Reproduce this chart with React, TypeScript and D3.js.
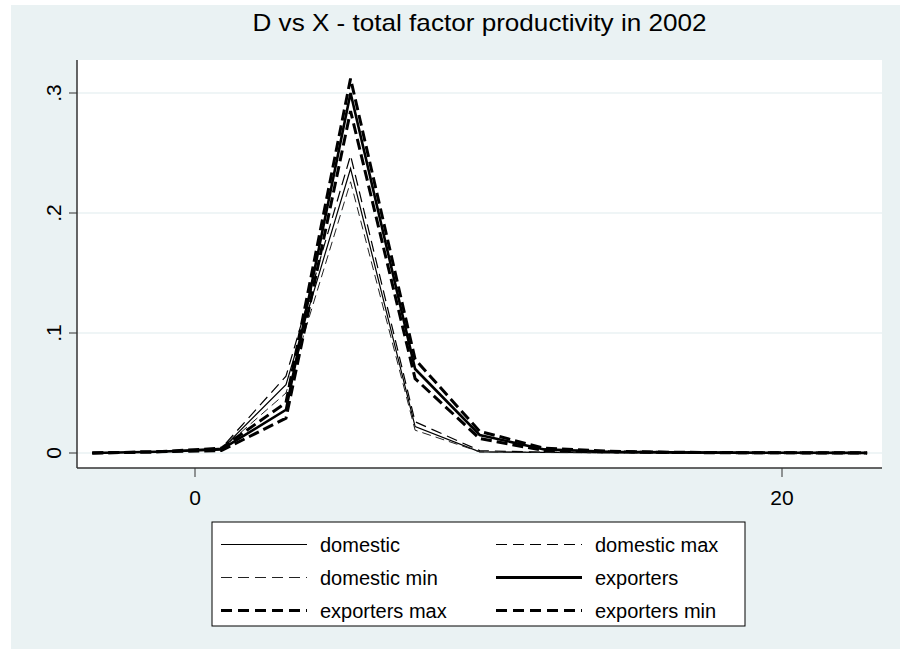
import * as d3 from "d3";

// grid points of the density estimates
const xs = [-3.5, -1.3, 0.9, 3.1, 5.3, 7.5, 9.7, 11.9, 14.1, 16.3, 18.5, 20.7, 22.9];

const domestic = [0, 0.001, 0.003, 0.057, 0.237, 0.022, 0.001, 0.0005, 0.0003, 0.0002, 0.0001, 0.0001, 0];
const domesticMax = [0, 0.001, 0.004, 0.064, 0.248, 0.026, 0.002, 0.0006, 0.0003, 0.0002, 0.0001, 0.0001, 0];
const domesticMin = [0, 0.001, 0.003, 0.05, 0.226, 0.019, 0.001, 0.0004, 0.0002, 0.0001, 0.0001, 0, 0];
const exporters = [0, 0.001, 0.003, 0.036, 0.3, 0.07, 0.015, 0.003, 0.001, 0.0005, 0.0003, 0.0002, 0.0001];
const exportersMax = [0, 0.001, 0.004, 0.042, 0.312, 0.078, 0.018, 0.004, 0.0015, 0.0006, 0.0003, 0.0002, 0.0001];
const exportersMin = [0, 0.001, 0.002, 0.029, 0.285, 0.062, 0.012, 0.002, 0.001, 0.0004, 0.0002, 0.0001, 0];

const yTicks = [0, 0.1, 0.2, 0.3];
const yTickLabels = ["0", ".1", ".2", ".3"];
const xTicks = [0, 20];

const title = "D vs X - total factor productivity in 2002";

const series = [
  { name: "domestic", values: domestic, width: 1.2, dash: "none", color: "#000" },
  { name: "domestic max", values: domesticMax, width: 1.2, dash: "11,6", color: "#000" },
  { name: "domestic min", values: domesticMin, width: 1, dash: "9,5", color: "#222" },
  { name: "exporters", values: exporters, width: 2.6, dash: "none", color: "#000" },
  { name: "exporters max", values: exportersMax, width: 3, dash: "11,5", color: "#000" },
  { name: "exporters min", values: exportersMin, width: 3, dash: "11,5", color: "#000" },
];

const W = 900;
const H = 649;
const plot = { left: 77, right: 882, top: 60, bottom: 468 };
const font = "'Liberation Sans', Arial, sans-serif";

export default function App() {
  const x = d3.scaleLinear().domain([0, 20]).range([195, 782]);
  const y = d3.scaleLinear().domain([0, 0.3]).range([453, 93]);

  const line = d3
    .line<number>()
    .x((_, i) => x(xs[i]))
    .y((v) => y(v));

  // legend layout
  const lg = { left: 212, top: 522, width: 533, height: 104 };

  return (
    <svg
      width={W}
      height={H}
      style={{ position: "absolute", left: 0, top: 0, fontFamily: font }}
    >
      <rect x={0} y={0} width={W} height={H} fill="#fff" />
      <rect x={11} y={5} width={W - 11} height={H - 5} fill="#EAF2F3" />

      <text
        x={(plot.left + plot.right) / 2}
        y={31}
        textAnchor="middle"
        fontSize={24}
        textLength={454}
        lengthAdjust="spacingAndGlyphs"
      >
        {title}
      </text>

      <rect
        x={plot.left}
        y={plot.top}
        width={plot.right - plot.left}
        height={plot.bottom - plot.top}
        fill="#fff"
      />

      {/* horizontal grid */}
      {yTicks.map((t) => (
        <line
          key={t}
          x1={plot.left}
          x2={plot.right}
          y1={y(t)}
          y2={y(t)}
          stroke="#EAF2F3"
          strokeWidth={1.5}
        />
      ))}

      {/* density lines */}
      {series.map((s) => (
        <path
          key={s.name}
          d={line(s.values) ?? ""}
          fill="none"
          stroke={s.color}
          strokeWidth={s.width}
          strokeDasharray={s.dash}
          strokeLinejoin="miter"
        />
      ))}

      {/* y axis */}
      <line x1={plot.left} x2={plot.left} y1={plot.top} y2={plot.bottom} stroke="#333" strokeWidth={1.5} />
      {yTicks.map((t, i) => (
        <g key={t}>
          <line x1={plot.left - 8} x2={plot.left} y1={y(t)} y2={y(t)} stroke="#333" strokeWidth={1} />
          <text
            transform={`translate(${plot.left - 16},${y(t)}) rotate(-90)`}
            textAnchor="middle"
            fontSize={21}
          >
            {yTickLabels[i]}
          </text>
        </g>
      ))}

      {/* x axis */}
      <line x1={plot.left} x2={plot.right} y1={plot.bottom} y2={plot.bottom} stroke="#333" strokeWidth={1.5} />
      {xTicks.map((t) => (
        <g key={t}>
          <line x1={x(t)} x2={x(t)} y1={plot.bottom} y2={plot.bottom + 9} stroke="#333" strokeWidth={1} />
          <text x={x(t)} y={plot.bottom + 37} textAnchor="middle" fontSize={21}>
            {t}
          </text>
        </g>
      ))}

      {/* legend */}
      <rect
        x={lg.left}
        y={lg.top}
        width={lg.width}
        height={lg.height}
        fill="#fff"
        stroke="#000"
        strokeWidth={1}
      />
      {series.map((s, i) => {
        const col = i % 2;
        const row = Math.floor(i / 2);
        const x0 = lg.left + 9 + col * 275;
        const cy = lg.top + 22.5 + row * 33;
        const thin = s.width < 2;
        return (
          <g key={s.name}>
            <line
              x1={x0}
              x2={x0 + 86}
              y1={cy}
              y2={cy}
              stroke={s.color}
              strokeWidth={thin ? 1 : 3}
              strokeDasharray={s.dash === "none" ? "none" : "11,6"}
            />
            <text x={x0 + 99} y={cy + 7} fontSize={20}>
              {s.name}
            </text>
          </g>
        );
      })}
    </svg>
  );
}
